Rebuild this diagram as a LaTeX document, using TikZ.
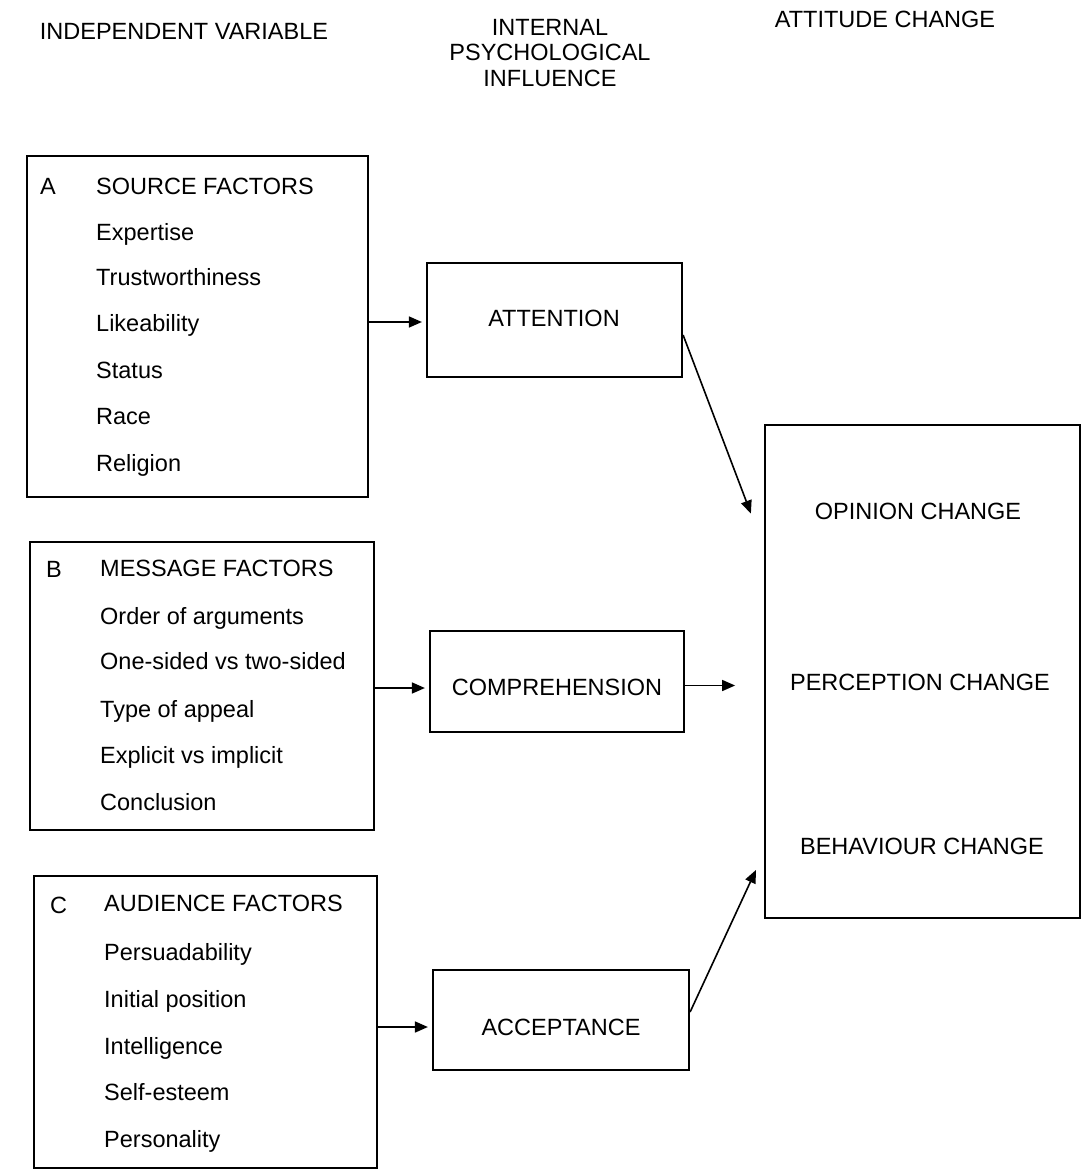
\documentclass[tikz,border=0pt]{standalone}
\usepackage{fontspec}
\setmainfont{Liberation Sans}
\usetikzlibrary{calc,arrows.meta}
\begin{document}
\begin{tikzpicture}[x=1pt,y=-1pt,
  every node/.style={font=\fontsize{23.5}{28}\selectfont},
  frame/.style={draw,line width=2.2pt,rectangle,inner sep=0pt},
  txt/.style={anchor=base west,inner sep=0pt},
  ctr/.style={anchor=base,inner sep=0pt},
  link/.style={line width=1.6pt,-{Triangle[length=13pt,width=11pt]}}]
\useasboundingbox (0,0) rectangle (1083,1169);

% column headings
\node[ctr] (h1) at (184,40) {INDEPENDENT VARIABLE};
\node[anchor=north,inner sep=0pt,align=center,font=\fontsize{23.5}{25.5}\selectfont] (h2) at (550,19) {INTERNAL\\PSYCHOLOGICAL\\INFLUENCE};
\node[ctr] (h3) at (885,28) {ATTITUDE CHANGE};

% factor boxes
\node[frame,minimum width=341pt,minimum height=341pt] (srcA) at (197.5,326.5) {};
\node[frame,minimum width=344pt,minimum height=288pt] (msgB) at (202,686) {};
\node[frame,minimum width=343pt,minimum height=292pt] (audC) at (205.5,1022) {};

% box A
\node[txt] (la) at (40,195) {A};
\node[txt] (a0) at (96,194) {SOURCE FACTORS};
\node[txt] (a1) at (96,240) {Expertise};
\node[txt] (a2) at (96,285) {Trustworthiness};
\node[txt] (a3) at (96,331) {Likeability};
\node[txt] (a4) at (96,378) {Status};
\node[txt] (a5) at (96,424) {Race};
\node[txt] (a6) at (96,471) {Religion};

% box B
\node[txt] (lb) at (46,577) {B};
\node[txt] (b0) at (100,576) {MESSAGE FACTORS};
\node[txt] (b1) at (100,624) {Order of arguments};
\node[txt] (b2) at (100,669) {One-sided vs two-sided};
\node[txt] (b3) at (100,717) {Type of appeal};
\node[txt] (b4) at (100,763) {Explicit vs implicit};
\node[txt] (b5) at (100,810) {Conclusion};

% box C
\node[txt] (lc) at (50,913) {C};
\node[txt] (c0) at (104,911) {AUDIENCE FACTORS};
\node[txt] (c1) at (104,960) {Persuadability};
\node[txt] (c2) at (104,1007) {Initial position};
\node[txt] (c3) at (104,1054) {Intelligence};
\node[txt] (c4) at (104,1100) {Self-esteem};
\node[txt] (c5) at (104,1147) {Personality};

% psychological influence boxes
\node[frame,minimum width=255pt,minimum height=114pt] (att) at (554.5,320) {};
\node[ctr] (attT) at (554,326) {ATTENTION};
\node[frame,minimum width=254pt,minimum height=101pt] (comp) at (557,681.5) {};
\node[ctr] (compT) at (557,695) {COMPREHENSION};
\node[frame,minimum width=256pt,minimum height=100pt] (acc) at (561,1020) {};
\node[ctr] (accT) at (561,1035) {ACCEPTANCE};

% attitude change box
\node[frame,minimum width=315pt,minimum height=493pt] (chg) at (922.5,671.5) {};
\node[ctr] (o1) at (918,519) {OPINION CHANGE};
\node[ctr] (o2) at (920,690) {PERCEPTION CHANGE};
\node[ctr] (o3) at (922,854) {BEHAVIOUR CHANGE};

% connectors
\draw[link,shorten >=4pt] (srcA.east |- 0,322) -- (att.west |- 0,322);
\draw[link,shorten >=4pt] (msgB.east |- 0,688) -- (comp.west |- 0,688);
\draw[link,shorten >=4pt] (audC.east |- 0,1027) -- (acc.west |- 0,1027);
\coordinate (compEnd) at ($(comp.east)+(50,4)$);
\draw[link] ($(comp.east)+(0,4)$) -- (compEnd);
\draw[link] ($(att.east)+(0,15)$) -- ($(chg.west)+(-13,-158)$);
\draw[link] ($(acc.east)+(0,-8)$) -- ($(chg.west)+(-8,198.5)$);
\end{tikzpicture}
\end{document}
